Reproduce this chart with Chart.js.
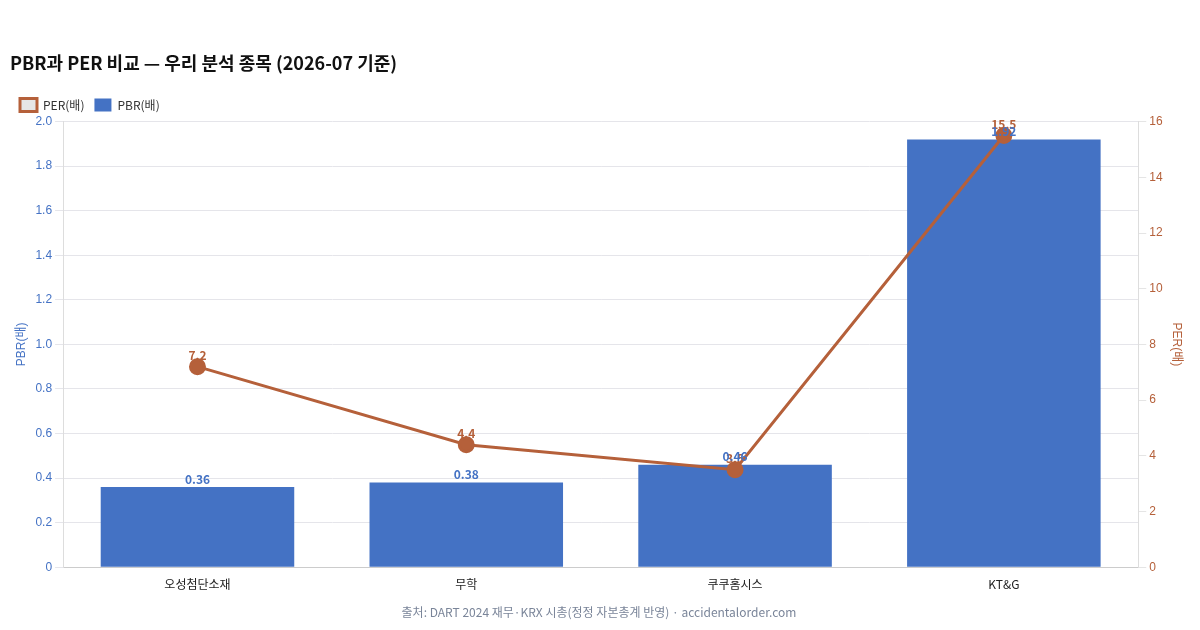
<!DOCTYPE html>
<html><head><meta charset="utf-8">
<script src="https://cdn.jsdelivr.net/npm/chart.js@4"></script>
<style>
html,body{margin:0;padding:0;background:#fff;}
#wrap{position:relative;width:1200px;height:630px;}
</style>
</head><body>
<div id="wrap"><canvas id="c" width="1200" height="630"></canvas></div>
<script>
const categories = ['오성첨단소재', '무학', '쿠쿠홈시스', 'KT&G'];
const perValues = [7.2, 4.4, 3.5, 15.5];
const pbrValues = [0.36, 0.38, 0.46, 1.92];
const titleText = 'PBR과 PER 비교 — 우리 분석 종목 (2026-07 기준)';
const sourceText = '출처: DART 2024 재무·KRX 시총(정정 자본총계 반영) · accidentalorder.com';

const BLUE = '#4472C4';
const ORANGE = '#B5603A';
const FONT = "'Noto Sans CJK KR', 'Noto Sans', sans-serif";
const AXFONT = "'Liberation Sans', Arial, 'Noto Sans CJK KR', sans-serif";
Chart.defaults.font.family = FONT;

const labelPlugin = {
  id: 'valueLabels',
  afterDatasetsDraw(chart) {
    const ctx = chart.ctx;
    chart.data.datasets.forEach((ds, i) => {
      const meta = chart.getDatasetMeta(i);
      meta.data.forEach((el, j) => {
        const v = ds.data[j];
        ctx.save();
        ctx.font = 'bold 12px ' + FONT;
        ctx.fillStyle = ds.type === 'line' ? ORANGE : BLUE;
        ctx.textAlign = 'center';
        ctx.textBaseline = 'bottom';
        const off = ds.type === 'line' ? 5 : 2;
        ctx.fillText(ds.type === 'line' ? v.toFixed(1) : v.toFixed(2), el.x, el.y - off);
        ctx.restore();
      });
    });
  }
};

new Chart(document.getElementById('c'), {
  data: {
    labels: categories,
    datasets: [
      {
        type: 'line', label: 'PER(배)', data: perValues, yAxisID: 'y1',
        borderColor: ORANGE, backgroundColor: ORANGE, borderWidth: 3,
        pointRadius: 7, pointHoverRadius: 7, pointBackgroundColor: ORANGE, pointBorderColor: ORANGE,
        tension: 0, order: 0
      },
      {
        type: 'bar', label: 'PBR(배)', data: pbrValues, yAxisID: 'y',
        backgroundColor: BLUE, borderWidth: 0, order: 1
      }
    ]
  },
  options: {
    responsive: false, animation: false,
    layout: { padding: { left: 10, right: 12, top: 52, bottom: 10 } },
    plugins: {
      title: { display: true, text: titleText, align: 'start', color: '#111',
        font: { size: 18, weight: 'bold', family: FONT }, padding: { top: 0, bottom: 15 } },
      subtitle: { display: true, text: sourceText, position: 'bottom', color: '#7a8599',
        font: { size: 12, family: FONT }, padding: { top: 12, bottom: 0 } },
      legend: { position: 'top', align: 'start',
        labels: { boxWidth: 17, boxHeight: 13, font: { size: 12 }, color: '#333', padding: 10,
          generateLabels(chart) {
            return chart.data.datasets.map((ds, i) => ({
              text: ds.label, datasetIndex: i,
              fillStyle: ds.type === 'line' ? '#e6e6e6' : BLUE,
              strokeStyle: ds.type === 'line' ? ORANGE : BLUE,
              lineWidth: ds.type === 'line' ? 3 : 0,
              fontColor: '#333', hidden: false
            }));
          } } },
      tooltip: { enabled: false }
    },
    scales: {
      x: { grid: { display: false }, border: { color: '#ccc' },
        ticks: { color: '#222', font: { size: 12 }, padding: 2 } },
      y: { position: 'left', min: 0, max: 2.0,
        ticks: { stepSize: 0.2, color: BLUE, font: { size: 12, family: AXFONT }, callback: v => v === 0 ? '0' : v.toFixed(1) },
        grid: { color: '#e5e5ea' }, border: { color: '#ddd' },
        title: { display: true, text: 'PBR(배)', color: BLUE, font: { size: 12, family: AXFONT } } },
      y1: { position: 'right', min: 0, max: 16,
        ticks: { stepSize: 2, color: ORANGE, font: { size: 12, family: AXFONT } },
        grid: { drawOnChartArea: false }, border: { color: '#ddd' },
        title: { display: true, text: 'PER(배)', color: ORANGE, font: { size: 12, family: AXFONT } } }
    }
  },
  plugins: [labelPlugin]
});
</script>
</body></html>
